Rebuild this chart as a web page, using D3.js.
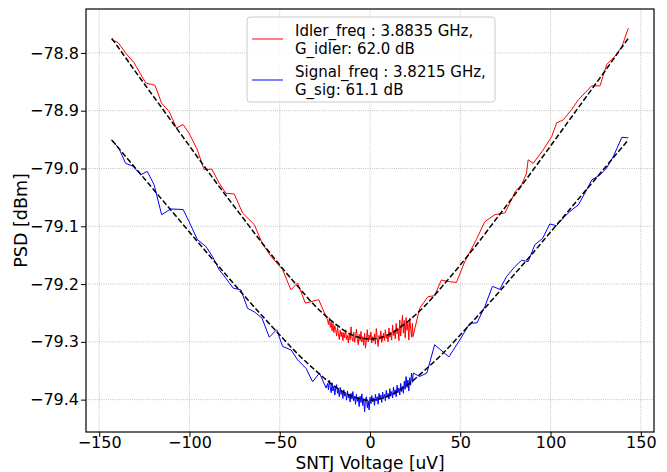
<!DOCTYPE html>
<html lang="en">

<head>
    <meta charset="UTF-8">
    <title>SNTJ PSD</title>
    <style>
        body {
            margin: 0;
            background: #fff;
        }

        text {
            font-family: "DejaVu Sans", sans-serif;
            fill: #000;
        }

        .tick text {
            font-size: 16px;
        }

        .grid line {
            stroke: #a0a0a0;
            stroke-width: 0.8;
            stroke-dasharray: 0.8, 1.4;
        }
    </style>
</head>

<body>
    <svg width="667" height="472"></svg>
    <script src="https://d3js.org/d3.v7.min.js"></script>
    <script>
        // coarse sweep, left side (voltage, PSD)
        let idlerLeft = [
            [-143.3, -78.777], [-139.5, -78.782], [-135.4, -78.800], [-130.7, -78.817],
            [-124.2, -78.852], [-119.1, -78.856], [-115.4, -78.887], [-111.3, -78.901],
            [-107.2, -78.930], [-103.5, -78.924], [-100.2, -78.939], [-95.6, -78.968],
            [-91.9, -79.002], [-87.6, -79.001], [-83.6, -79.025], [-79.8, -79.043],
            [-75.2, -79.044], [-70.6, -79.077], [-64.1, -79.097], [-59.8, -79.129],
            [-54.9, -79.152], [-48.4, -79.175], [-43.8, -79.210], [-40.1, -79.198],
            [-35.8, -79.233], [-28.4, -79.227], [-24.0, -79.259]
        ];
        let idlerRight = [
            [23.8, -79.291], [27.5, -79.242], [32.1, -79.222], [35.8, -79.220],
            [39.5, -79.193], [44.1, -79.196], [47.9, -79.197], [52.5, -79.161],
            [58.9, -79.123], [63.6, -79.092], [69.1, -79.080], [74.7, -79.077],
            [78.4, -79.054], [80.4, -79.040], [84.0, -79.028], [86.7, -79.008],
            [87.6, -78.985], [90.4, -78.991], [95.9, -78.968], [100.6, -78.945],
            [103.4, -78.921], [107.0, -78.916], [111.7, -78.898], [115.4, -78.881],
            [119.1, -78.869], [122.8, -78.857], [127.4, -78.857], [131.1, -78.820],
            [135.7, -78.806], [139.5, -78.789], [143.1, -78.757]
        ];
        let signalLeft = [
            [-143.3, -78.950], [-139.1, -78.965], [-135.4, -78.991], [-131.3, -78.996],
            [-127.0, -79.011], [-123.4, -79.005], [-119.6, -79.028], [-115.4, -79.080],
            [-110.4, -79.070], [-103.5, -79.071], [-100.2, -79.092], [-95.6, -79.123],
            [-90.9, -79.135], [-87.3, -79.152], [-83.6, -79.175], [-79.8, -79.190],
            [-75.8, -79.207], [-71.5, -79.210], [-67.8, -79.242], [-64.1, -79.248],
            [-59.8, -79.259], [-55.8, -79.292], [-51.7, -79.279], [-48.4, -79.308],
            [-43.7, -79.314], [-40.1, -79.331], [-35.4, -79.346], [-31.8, -79.369],
            [-28.0, -79.354], [-24.3, -79.380]
        ];
        let signalRight = [
            [24.0, -79.354], [27.5, -79.360], [31.5, -79.354], [35.8, -79.305],
            [43.7, -79.326], [49.7, -79.297], [55.2, -79.268], [59.3, -79.267],
            [63.6, -79.239], [67.8, -79.204], [71.9, -79.209], [75.6, -79.187],
            [80.2, -79.170], [83.9, -79.159], [87.6, -79.161], [91.3, -79.132],
            [95.6, -79.121], [99.6, -79.096], [103.3, -79.099], [107.0, -79.086],
            [110.8, -79.074], [115.4, -79.063], [120.0, -79.037], [122.8, -79.020],
            [127.4, -79.011], [131.1, -78.999], [134.8, -78.979], [139.5, -78.946],
            [143.1, -78.947]
        ];

        // fine sweep around zero bias, -23.5 .. 23.5 uV in 0.5 uV steps
        let fineV = d3.range(-23.5, 23.51, 0.5);
        let idlerFine = [
            -79.262, -79.270, -79.258, -79.275, -79.266, -79.281, -79.268, -79.284,
            -79.272, -79.279, -79.290, -79.275, -79.286, -79.296, -79.280, -79.291,
            -79.283, -79.298, -79.284, -79.293, -79.279, -79.296, -79.289, -79.302,
            -79.285, -79.297, -79.274, -79.293, -79.299, -79.283, -79.301, -79.290,
            -79.278, -79.296, -79.305, -79.287, -79.298, -79.282, -79.300, -79.291,
            -79.306, -79.285, -79.311, -79.296, -79.279, -79.300, -79.288, -79.297,
            -79.283, -79.302, -79.291, -79.299, -79.286, -79.304, -79.277, -79.295,
            -79.308, -79.289, -79.296, -79.281, -79.301, -79.293, -79.285, -79.298,
            -79.279, -79.294, -79.287, -79.300, -79.276, -79.292, -79.283, -79.297,
            -79.271, -79.289, -79.280, -79.295, -79.268, -79.286, -79.277, -79.298,
            -79.262, -79.290, -79.271, -79.254, -79.285, -79.263, -79.293, -79.258,
            -79.280, -79.266, -79.297, -79.259, -79.276, -79.292, -79.268
        ];
        let signalFine = [
            -79.372, -79.383, -79.366, -79.379, -79.388, -79.371, -79.385, -79.377,
            -79.392, -79.380, -79.374, -79.389, -79.382, -79.395, -79.379, -79.391,
            -79.386, -79.398, -79.383, -79.394, -79.388, -79.401, -79.385, -79.397,
            -79.392, -79.404, -79.389, -79.399, -79.386, -79.402, -79.394, -79.408,
            -79.391, -79.403, -79.396, -79.412, -79.394, -79.405, -79.390, -79.410,
            -79.398, -79.421, -79.400, -79.395, -79.414, -79.402, -79.418, -79.396,
            -79.407, -79.393, -79.404, -79.397, -79.410, -79.391, -79.402, -79.395,
            -79.408, -79.389, -79.400, -79.392, -79.405, -79.387, -79.398, -79.391,
            -79.402, -79.384, -79.396, -79.389, -79.399, -79.381, -79.394, -79.386,
            -79.397, -79.378, -79.391, -79.383, -79.395, -79.375, -79.388, -79.380,
            -79.392, -79.372, -79.386, -79.377, -79.389, -79.368, -79.382, -79.360,
            -79.379, -79.366, -79.385, -79.362, -79.375, -79.354, -79.370
        ];

        let fitV = [-143, -140, -130, -120, -110, -100, -90, -80, -70, -60, -50, -40, -30, -20, -10, 0,
            10, 20, 30, 40, 50, 60, 70, 80, 90, 100, 110, 120, 130, 140, 143];
        let idlerFit = [-78.775, -78.788, -78.832, -78.875, -78.918, -78.961, -79.004, -79.046, -79.087,
            -79.128, -79.167, -79.204, -79.239, -79.267, -79.288, -79.295, -79.288, -79.267, -79.239,
            -79.204, -79.167, -79.128, -79.087, -79.046, -79.004, -78.961, -78.918, -78.875, -78.832,
            -78.788, -78.775];
        let signalFit = [-78.951, -78.962, -78.999, -79.036, -79.073, -79.110, -79.147, -79.183, -79.219,
            -79.254, -79.288, -79.321, -79.350, -79.376, -79.394, -79.401, -79.394, -79.376, -79.350,
            -79.321, -79.288, -79.254, -79.219, -79.183, -79.147, -79.110, -79.073, -79.036, -78.999,
            -78.962, -78.951];

        let xTicks = [-150, -100, -50, 0, 50, 100, 150];
        let yTicks = [-79.4, -79.3, -79.2, -79.1, -79.0, -78.9, -78.8];
        let legendLines = [
            ["Idler_freq : 3.8835 GHz,", "G_idler: 62.0 dB"],
            ["Signal_freq : 3.8215 GHz,", "G_sig: 61.1 dB"]
        ];
        let colors = ["red", "blue"];

        let svg = d3.select("svg");
        let pl = 86, pr = 654, pt = 9, pb = 432;

        let x = d3.scaleLinear().domain([-157.3, 157.3]).range([pl, pr]);
        let y = d3.scaleLinear().domain([-79.456, -78.724]).range([pb, pt]);

        // grid
        let grid = svg.append("g").attr("class", "grid");
        grid.selectAll(".gx").data(xTicks).join("line")
            .attr("class", "gx")
            .attr("x1", d => x(d)).attr("x2", d => x(d))
            .attr("y1", pt).attr("y2", pb);
        grid.selectAll(".gy").data(yTicks).join("line")
            .attr("class", "gy")
            .attr("x1", pl).attr("x2", pr)
            .attr("y1", d => y(d)).attr("y2", d => y(d));

        let line = d3.line().x(d => x(d[0])).y(d => y(d[1]));

        let idler = idlerLeft.concat(fineV.map((v, i) => [v, idlerFine[i]]), idlerRight);
        let signal = signalLeft.concat(fineV.map((v, i) => [v, signalFine[i]]), signalRight);

        svg.append("g").selectAll("path")
            .data([idler, signal])
            .join("path")
            .attr("d", line)
            .attr("fill", "none")
            .attr("stroke", (d, i) => colors[i])
            .attr("stroke-width", 1)
            .attr("stroke-linejoin", "round");

        let fitLine = d3.line().curve(d3.curveMonotoneX).x(d => x(d[0])).y(d => y(d[1]));
        svg.append("g").selectAll("path")
            .data([idlerFit, signalFit])
            .join("path")
            .attr("d", d => fitLine(fitV.map((v, i) => [v, d[i]])))
            .attr("fill", "none")
            .attr("stroke", "black")
            .attr("stroke-width", 1.5)
            .attr("stroke-dasharray", "5.5,2.4");

        // axes
        let xAxis = svg.append("g")
            .attr("transform", `translate(0,${pb})`)
            .call(d3.axisBottom(x).tickValues(xTicks).tickFormat(d3.format("d")).tickSize(5).tickPadding(0));
        let yAxis = svg.append("g")
            .attr("transform", `translate(${pl},0)`)
            .call(d3.axisLeft(y).tickValues(yTicks).tickFormat(d3.format(".1f")).tickSize(5).tickPadding(2));
        [xAxis, yAxis].forEach(a => {
            a.select(".domain").remove();
            a.selectAll(".tick line").attr("stroke", "#000").attr("stroke-width", 1);
        });

        svg.append("rect")
            .attr("x", pl).attr("y", pt)
            .attr("width", pr - pl).attr("height", pb - pt)
            .attr("fill", "none").attr("stroke", "#000").attr("stroke-width", 1.2);

        svg.append("text")
            .attr("x", (pl + pr) / 2).attr("y", 469)
            .attr("text-anchor", "middle")
            .style("font-size", "17px")
            .text("SNTJ Voltage [uV]");
        svg.append("text")
            .attr("transform", `translate(27,${(pt + pb) / 2}) rotate(-90)`)
            .attr("text-anchor", "middle")
            .style("font-size", "17.5px")
            .text("PSD [dBm]");

        // legend
        let lg = svg.append("g");
        lg.append("rect")
            .attr("x", 247).attr("y", 17).attr("width", 248).attr("height", 85)
            .attr("rx", 3)
            .attr("fill", "white").attr("fill-opacity", 0.8)
            .attr("stroke", "#cccccc");
        let item = lg.selectAll(".item").data(legendLines).join("g")
            .attr("class", "item")
            .attr("transform", (d, i) => `translate(0,${i * 41})`);
        item.append("line")
            .attr("x1", 252).attr("x2", 283).attr("y1", 39).attr("y2", 39)
            .attr("stroke", (d, i) => colors[i]).attr("stroke-width", 1);
        item.selectAll("text").data(d => d).join("text")
            .attr("x", 295).attr("y", (d, j) => 36 + j * 17.5)
            .style("font-size", "15px")
            .text(d => d);
    </script>

</body>

</html>
